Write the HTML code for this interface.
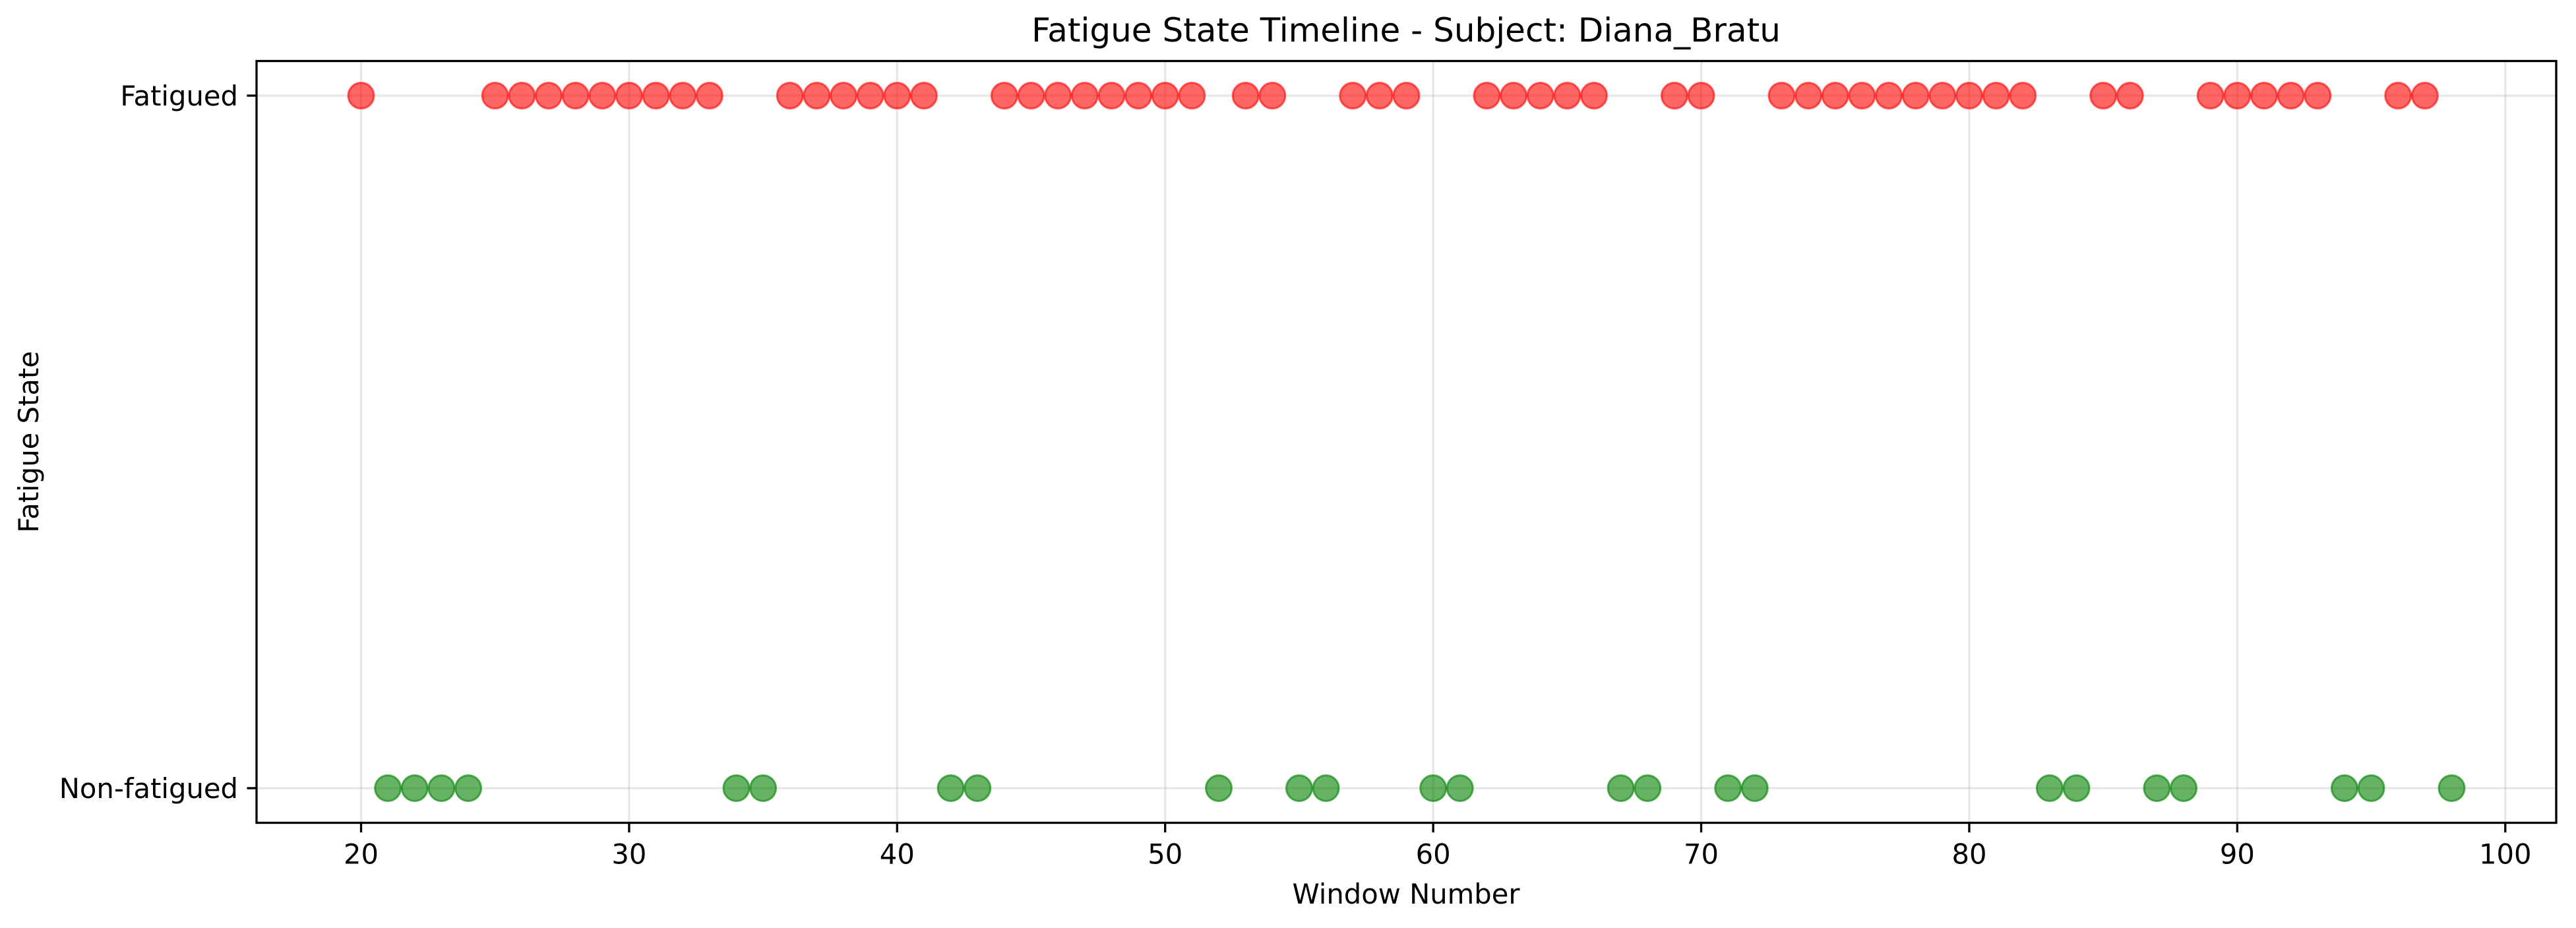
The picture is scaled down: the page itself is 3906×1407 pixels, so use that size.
<!DOCTYPE html>
<html><head><meta charset="utf-8"><style>
html,body{margin:0;padding:0;background:#fff;}
svg{display:block;font-family:"DejaVu Sans","Liberation Sans",sans-serif;}
</style></head><body>
<svg id="chart" width="3906" height="1407" viewBox="0 0 3906 1407" xmlns="http://www.w3.org/2000/svg">
<rect width="3906" height="1407" fill="#fff"/>
<g id="grid"></g>
<g id="marks"></g>
<g id="axes"></g>
<text x="2132" y="63" font-size="50" text-anchor="middle">Fatigue State Timeline - Subject: Diana_Bratu</text>
<text x="2132" y="1370" font-size="41.7" text-anchor="middle">Window Number</text>
<text x="58" y="670" font-size="41.7" text-anchor="middle" transform="rotate(-90 58 670)">Fatigue State</text>
</svg>
<script>
const fatiguedWindows = [20,25,26,27,28,29,30,31,32,33,36,37,38,39,40,41,44,45,46,47,48,49,50,51,53,54,57,58,59,62,63,64,65,66,69,70,73,74,75,76,77,78,79,80,81,82,85,86,89,90,91,92,93,96,97];
const nonFatiguedWindows = [21,22,23,24,34,35,42,43,52,55,56,60,61,67,68,71,72,83,84,87,88,94,95,98];
const xTicks = [20,30,40,50,60,70,80,90,100];
const yCategories = ["Non-fatigued","Fatigued"];

const NS = "http://www.w3.org/2000/svg";
const L = 389, R = 3876, T = 92.5, B = 1247.5;
const allX = fatiguedWindows.concat(nonFatiguedWindows);
const xmin = Math.min(...allX), xmax = Math.max(...allX);
const xm = (xmax - xmin) * 0.05;
const x0 = xmin - xm, x1 = xmax + xm;
const xs = v => L + (v - x0) / (x1 - x0) * (R - L);
const ys = v => B - (v + 0.05) / 1.1 * (B - T);

function mk(tag, attrs, parent) {
  const e = document.createElementNS(NS, tag);
  for (const k in attrs) e.setAttribute(k, attrs[k]);
  parent.appendChild(e);
  return e;
}
const grid = document.getElementById('grid');
const marks = document.getElementById('marks');
const axes = document.getElementById('axes');

xTicks.forEach(t => {
  const x = xs(t);
  const g = mk('line', {x1: x, x2: x, y1: T, y2: B, stroke: '#b0b0b0', 'stroke-opacity': 0.3, 'stroke-width': 3.3}, grid);
  
  
  const tk = mk('line', {x1: x, x2: x, y1: B, y2: B + 14.6, stroke: '#000', 'stroke-width': 3.3}, axes);
  
  
  const lb = mk('text', {x: x, y: B + 62, 'font-size': 41.7, 'text-anchor': 'middle'}, axes);
  lb.textContent = t;
  
  
});
yCategories.forEach((c, i) => {
  const y = ys(i);
  const g = mk('line', {x1: L, x2: R, y1: y, y2: y, stroke: '#b0b0b0', 'stroke-opacity': 0.3, 'stroke-width': 3.3}, grid);
  
  
  const tk = mk('line', {x1: L - 14.6, x2: L, y1: y, y2: y, stroke: '#000', 'stroke-width': 3.3}, axes);
  
  
  const lb = mk('text', {x: L - 28, y: y + 15, 'font-size': 41.7, 'text-anchor': 'end'}, axes);
  lb.textContent = c;
  
  
});
const frame = mk('rect', {x: L, y: T, width: R - L, height: B - T, fill: 'none', stroke: '#000', 'stroke-width': 3.3}, axes);



fatiguedWindows.forEach(w => {
  const c = mk('circle', {cx: xs(w), cy: ys(1), r: 19.5, fill: 'red', 'fill-opacity': 0.6, stroke: 'red', 'stroke-opacity': 0.6, 'stroke-width': 3}, marks);
  
  
});
nonFatiguedWindows.forEach(w => {
  const c = mk('circle', {cx: xs(w), cy: ys(0), r: 19.5, fill: 'green', 'fill-opacity': 0.6, stroke: 'green', 'stroke-opacity': 0.6, 'stroke-width': 3}, marks);
  
  
});
</script>
</body></html>
